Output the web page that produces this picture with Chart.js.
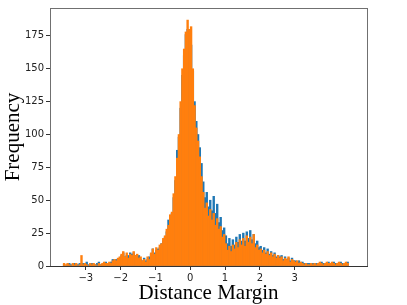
<!DOCTYPE html>
<html>
<head>
<meta charset="utf-8">
<script src="https://cdn.jsdelivr.net/npm/chart.js@4.4.1/dist/chart.umd.min.js"></script>
<style>
  html, body { margin: 0; padding: 0; background: #ffffff; }
  #wrap { width: 407px; height: 305px; }
</style>
</head>
<body>
<div id="wrap"><canvas id="c" width="407" height="305"></canvas></div>
<script>
// Histogram bin grid (left edge of first bin and bin width)
const binStart = -3.65;
const binWidth = 0.05;

// Series 1 (orange) frequencies per bin
const orangeCounts = [
  2,1,2,1,0,2,1,2,0,1, 8,1,2,1,0,2,1,2,1,0, 2,1,2,3,2,
  2,3,2,4,5,4,6,7,9,11, 7,10,6,9,8,11,8,9,6,7, 4,5,3,7,5,10,13,9,
  14,12,16,17,21,23,28,31,39,41,
  55,68,82,100,125,150,165,178,187,180,
  182,150,122,105,95,83,68,56,44,48,
  38,43,35,40,31,36,28,30,22,24,
  17,12,15,11,16,13,18,14,20,16,
  21,15,23,18,22,17,24,14,16,12,
  13,10,12,9,11,8,10,7,9,6,
  8,6,7,4,6,5,7,3,5,4,
  3,4,2,3,2,1,2,1,1,2,
  1,2,1,2,3,2,1,2,3,2,
  2,3,2,1,2,3,2,1,2,3,
  2
];

// Series 2 (blue) frequencies per bin
const blueCounts = [
  1,0,1,2,1,0,2,1,1,2, 1,2,1,3,1,1,2,1,1,2, 3,1,1,2,3,
  1,2,3,5,4,5,5,6,8,10, 7,8,8,10,9,10,8,7,8,5, 4,6,4,5,7,9,13,10,
  12,13,14,17,19,22,26,35,37,40,
  52,65,88,98,120,145,160,176,180,172,
  168,148,125,110,100,90,78,64,52,56,
  45,50,42,53,40,47,33,37,27,29,
  23,17,21,15,20,16,22,18,24,19,
  25,19,26,21,27,20,24,17,19,14,
  15,12,14,10,13,9,11,8,10,7,
  8,7,8,5,7,5,6,4,6,4,
  4,3,4,2,3,2,1,2,2,1,
  2,1,2,1,2,3,2,1,2,3,
  1,2,3,2,1,2,3,2,1,2,
  3
];

// Tick labels
const xTicks = [-3, -2, -1, 0, 1, 2, 3];
const yTicks = [0, 25, 50, 75, 100, 125, 150, 175];

const xTitle = 'Distance Margin';
const yTitle = 'Frequency';

function toPoints(arr) {
  return arr.map((v, i) => ({ x: binStart + binWidth * (i + 0.5), y: v }));
}

const frame = {
  id: 'frame',
  afterDraw(chart) {
    const a = chart.chartArea;
    const ctx = chart.ctx;
    ctx.save();
    ctx.lineWidth = 1;
    ctx.strokeStyle = '#707070';
    ctx.strokeRect(Math.round(a.left) + 0.5, Math.round(a.top) + 0.5,
                   Math.round(a.right - a.left), Math.round(a.bottom - a.top));
    ctx.strokeStyle = '#333333';
    ctx.beginPath();
    ctx.moveTo(Math.round(a.left), Math.round(a.bottom) + 0.5);
    ctx.lineTo(Math.round(a.right) + 1, Math.round(a.bottom) + 0.5);
    ctx.stroke();
    ctx.restore();
  }
};

const fmt = v => (v < 0 ? '\u2212' + Math.abs(v) : String(v));

new Chart(document.getElementById('c'), {
  type: 'bar',
  data: {
    datasets: [
      {
        label: 'orange',
        data: toPoints(orangeCounts),
        backgroundColor: '#ff7f0e',
        borderWidth: 0,
        grouped: false,
        barPercentage: 1,
        categoryPercentage: 1,
        order: 0
      },
      {
        label: 'blue',
        data: toPoints(blueCounts),
        backgroundColor: '#1f77b4',
        borderWidth: 0,
        grouped: false,
        barPercentage: 1,
        categoryPercentage: 1,
        order: 1
      }
    ]
  },
  options: {
    responsive: false,
    animation: false,
    devicePixelRatio: 1,
    layout: { padding: { left: 0, right: 40, top: 7, bottom: 0 } },
    plugins: { legend: { display: false }, tooltip: { enabled: false } },
    scales: {
      x: {
        type: 'linear',
        min: -4.03,
        max: 5.08,
        offset: false,
        afterBuildTicks: s => { s.ticks = xTicks.map(v => ({ value: v })); },
        afterFit: s => { s.height = 39; },
        ticks: {
          callback: v => fmt(v),
          color: '#222',
          font: { family: 'DejaVu Sans', size: 10 },
          padding: 2,
          maxRotation: 0,
          autoSkip: false
        },
        grid: { display: true, drawOnChartArea: false, drawTicks: true, tickLength: 4, tickColor: '#333', offset: false },
        border: { display: false },
        title: {
          display: true,
          text: xTitle,
          color: '#000',
          font: { family: 'Liberation Serif', size: 21, lineHeight: 1 },
          padding: { top: 0, bottom: 1 }
        }
      },
      y: {
        min: 0,
        max: 196.2,
        afterBuildTicks: s => { s.ticks = yTicks.map(v => ({ value: v })); },
        afterFit: s => { s.width = 50; },
        ticks: {
          color: '#222',
          font: { family: 'DejaVu Sans', size: 10 },
          padding: 2,
          autoSkip: false
        },
        grid: { display: true, drawOnChartArea: false, drawTicks: true, tickLength: 4, tickColor: '#333' },
        border: { display: false },
        title: {
          display: true,
          text: yTitle,
          color: '#000',
          font: { family: 'Liberation Serif', size: 21, lineHeight: 1 },
          padding: { top: 3, bottom: 0 }
        }
      }
    }
  },
  plugins: [frame]
});
</script>
</body>
</html>
